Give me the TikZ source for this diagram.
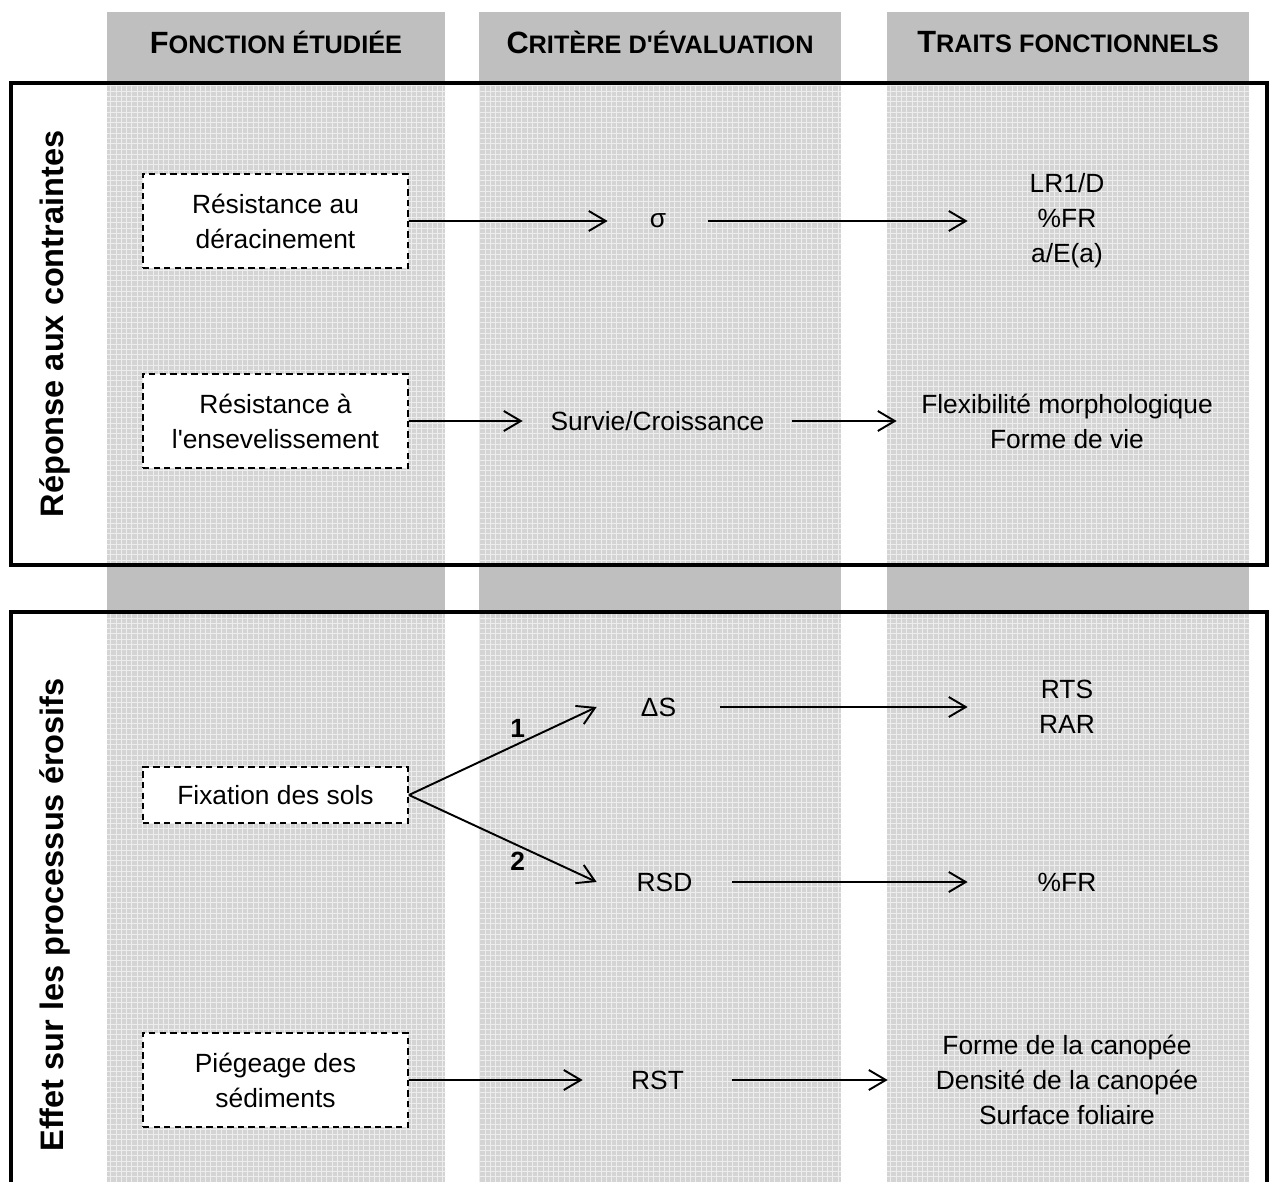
\documentclass[tikz,border=0pt]{standalone}
\usepackage{fontspec}
\setmainfont{Liberation Sans}
\usetikzlibrary{positioning, arrows.meta, patterns}

\newcommand{\bodyfont}{\fontsize{15}{20}\selectfont}
\newcommand{\scaphead}[2]{{\fontsize{17.5}{20}\selectfont\bfseries #1}{\fontsize{14.4}{20}\selectfont\bfseries #2}}

\begin{document}
\begin{tikzpicture}[x=0.02cm, y=-0.02cm,
    colhead/.style={fill=black!25},
    colbody/.style={fill=black!17, postaction={pattern=grid, pattern color=black!7}},
    frame/.style={draw=black, line width=2pt},
    fnbox/.style={draw, line width=1.1pt, dash pattern=on 3.6pt off 2.4pt, fill=white, minimum width=5.3cm, minimum height=1.88cm, align=center, inner sep=0pt, font=\bodyfont},
    crit/.style={inner sep=0pt, minimum height=0.8cm, align=center, font=\bodyfont},
    trait/.style={inner sep=0pt, align=center, font=\bodyfont},
    flow/.style={line width=1.1pt, -{Straight Barb[length=0.34cm, width=0.4cm, line width=1.1pt]}},
    numlbl/.style={inner sep=1pt, font=\fontsize{15}{17}\selectfont\bfseries},
    side/.style={rotate=90, font=\fontsize{18.5}{22}\selectfont\bfseries}
]
    \useasboundingbox (0,0) rectangle (1270,1182);

    % --- Columns ---
    \foreach \xa/\xb in {107/445, 479/841, 887/1249} {
        \fill[colhead] (\xa,12) rectangle (\xb,83);
        \fill[colbody] (\xa,83) rectangle (\xb,565);
        \fill[colhead] (\xa,565) rectangle (\xb,612);
        \fill[colbody] (\xa,612) rectangle (\xb,1182);
    }

    % --- Column headers ---
    \node (h1) at (276,42) {\scaphead{F}{ONCTION ÉTUDIÉE}};
    \node (h2) at (660,42) {\scaphead{C}{RITÈRE D\textquotesingle ÉVALUATION}};
    \node (h3) at (1068,42) {\scaphead{T}{RAITS FONCTIONNELS}};

    % --- Frames ---
    \draw[frame] (11,83) rectangle (1267,565);
    \draw[frame] (11,1182) -- (11,612) -- (1267,612) -- (1267,1182);

    \node[side] (s1) at (55,324) {Réponse aux contraintes};
    \node[side] (s2) at (55,915) {Effet sur les processus érosifs};

    % --- Réponse aux contraintes ---
    \node[fnbox] (f1) at (275.5,221) {Résistance au\\déracinement};
    \node[crit, minimum width=2cm] (c1) at (658,221) {σ};
    \node[trait, minimum width=3.96cm] (t1) at (1067,221) {LR1/D\\\%FR\\a/E(a)};

    \node[fnbox] (f2) at (275.5,421) {Résistance à\\l\textquotesingle ensevelissement};
    \node[crit, minimum width=5.38cm] (c2) at (657.5,421) {Survie/Croissance};
    \node[trait, minimum width=6.8cm] (t2) at (1067,421) {Flexibilité morphologique\\Forme de vie};

    \draw[flow] (f1.east) -- (c1.west);
    \draw[flow] (c1.east) -- (t1.west);
    \draw[flow] (f2.east) -- (c2.west);
    \draw[flow] (c2.east) -- (t2.west);

    % --- Effet sur les processus érosifs ---
    \node[fnbox, minimum height=1.12cm] (f3) at (275.5,795) {Fixation des sols};
    \node[crit, minimum width=2.46cm] (c3a) at (658.5,707) {ΔS};
    \node[crit, minimum width=2.7cm] (c3b) at (664.5,882) {RSD};
    \node[trait, minimum width=3.96cm] (t3a) at (1067,707) {RTS\\RAR};
    \node[trait, minimum width=3.96cm] (t3b) at (1067,882) {\%FR};

    \draw[flow] (f3.east) -- node[numlbl, pos=0.58, above=2pt] {1} (c3a.west);
    \draw[flow] (f3.east) -- node[numlbl, pos=0.58, below=2pt] {2} (c3b.west);
    \draw[flow] (c3a.east) -- (t3a.west);
    \draw[flow] (c3b.east) -- (t3b.west);

    \node[fnbox] (f4) at (275.5,1080) {Piégeage des\\sédiments};
    \node[crit, minimum width=2.98cm] (c4) at (657.5,1080) {RST};
    \node[trait, minimum width=7.16cm] (t4) at (1067,1080) {Forme de la canopée\\Densité de la canopée\\Surface foliaire};

    \draw[flow] (f4.east) -- (c4.west);
    \draw[flow] (c4.east) -- (t4.west);

\end{tikzpicture}
\end{document}
